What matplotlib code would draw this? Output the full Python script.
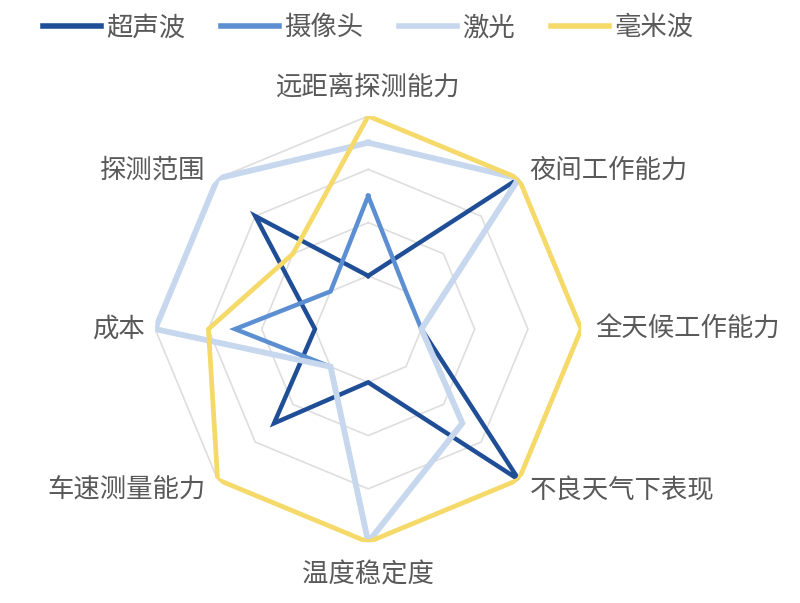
import numpy as np
import matplotlib
matplotlib.use("Agg")
import matplotlib.pyplot as plt

plt.rcParams['font.family'] = ['Noto Sans CJK SC', 'DejaVu Sans']

# axes, clockwise from the top
categories = ["远距离探测能力", "夜间工作能力", "全天候工作能力", "不良天气下表现",
              "温度稳定度", "车速测量能力", "成本", "探测范围"]
series_names = ["超声波", "摄像头", "激光", "毫米波"]
ultrasonic = [1, 4, 1, 4, 1, 2.5, 1, 3]
camera = [2.5, 1, 1, 2.5, 4, 1, 2.5, 1]
lidar = [3.5, 4, 1, 2.5, 4, 1, 4, 4]
mmwave = [4, 4, 4, 4, 4, 4, 3, 2]
rings = [1, 2, 3, 4]

colors = ["#1f4e96", "#5b8fd2", "#c6d7ee", "#f5d969"]
widths = [3.2, 3.2, 4.2, 3.4]

n = len(categories)
ang = np.arange(n) * 2 * np.pi / n
ang_c = np.append(ang, ang[0])

fig = plt.figure(figsize=(8, 6.03), dpi=100)
ax = fig.add_axes([0.194, 0.101, 0.5325, 0.7065], projection='polar')
ax.set_theta_offset(np.pi / 2)
ax.set_theta_direction(-1)
ax.set_ylim(0, 4)
ax.grid(False)
ax.spines['polar'].set_visible(False)
ax.set_xticks([])
ax.set_yticks([])
ax.patch.set_alpha(0)

for r in rings:
    ax.plot(ang_c, [r] * (n + 1), color="#dedede", lw=1.2, zorder=1)

for name, vals, c, w in zip(series_names, [ultrasonic, camera, lidar, mmwave], colors, widths):
    v = vals + vals[:1]
    ax.plot(ang_c, v, color=c, lw=w, label=name, zorder=2, solid_joinstyle='miter')

offsets = [(0, 29, 'center'), (11, 8, 'left'), (14, 0, 'left'), (11, -10, 'left'),
           (0, -33, 'center'), (-12, -10, 'right'), (-10, 0, 'right'), (-12, 8, 'right')]
for a, lab, (dx, dy, ha) in zip(ang, categories, offsets):
    ax.annotate(lab, xy=(a, 4), xytext=(dx, dy), textcoords='offset pixels',
                ha=ha, va='center', fontsize=19, color="#595959", annotation_clip=False)

leg = fig.legend(loc='center', bbox_to_anchor=(0.46, 0.954), ncol=4, frameon=False,
                 fontsize=19, labelcolor="#595959", handlelength=2.2, handletextpad=0.2,
                 columnspacing=1.35)
for line in leg.get_lines():
    line.set_linewidth(4)

fig.savefig("out.png", dpi=100)
